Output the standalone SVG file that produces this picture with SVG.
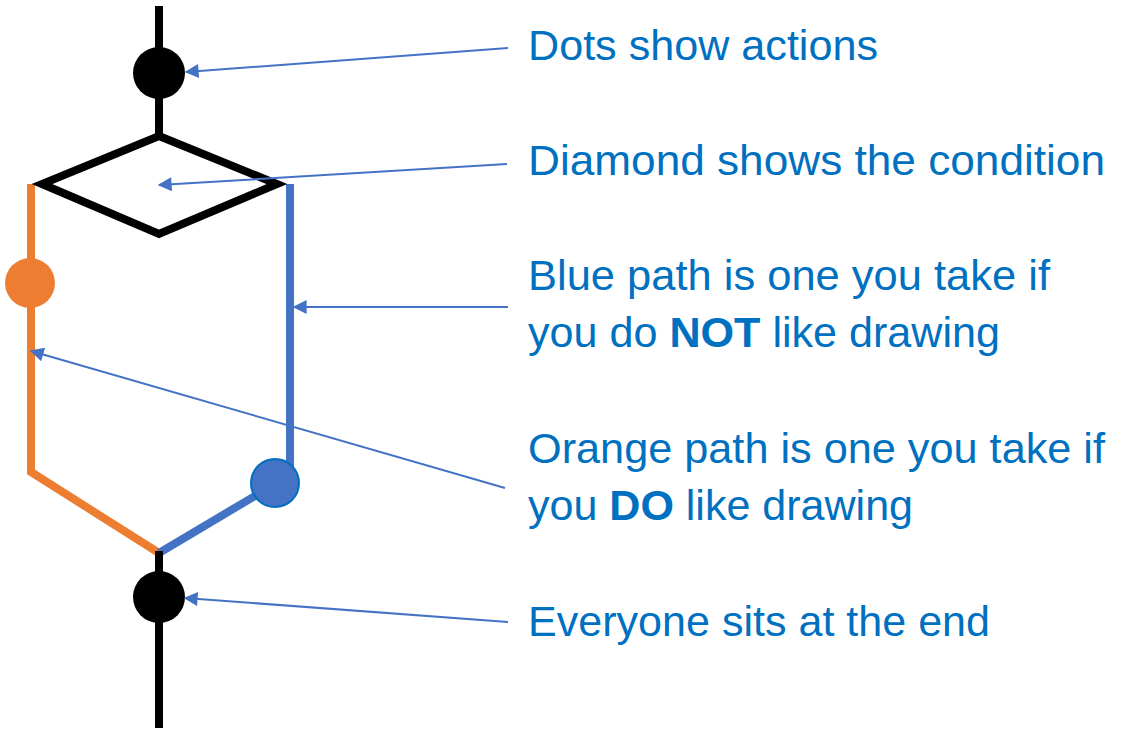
<svg xmlns="http://www.w3.org/2000/svg" width="1124" height="731" viewBox="0 0 1124 731">
  <defs>
    <style>
      .flow { fill: none; stroke-linejoin: miter; stroke-miterlimit: 10; stroke-width: 8; }
      .black { stroke: #000000; }
      .orange { stroke: #ED7D31; }
      .blue { stroke: #4472C4; }
      .pointer { stroke: #4472C4; stroke-width: 2; fill: none; marker-end: url(#tip); }
      .label { font-family: "Liberation Sans", Arial, sans-serif; font-size: 43px; fill: #0070C0; }
      .strong { font-weight: bold; }
    </style>
    <marker id="tip" viewBox="0 0 10 10" refX="9" refY="5" markerWidth="7.5" markerHeight="7" orient="auto" markerUnits="strokeWidth">
      <path d="M0,0 L10,5 L0,10 z" fill="#4472C4"/>
    </marker>
  </defs>

  <rect width="1124" height="731" fill="#ffffff"/>

  <!-- flow lines -->
  <g id="connectors">
    <line class="flow black" x1="159" y1="6" x2="159" y2="136"/>
    <path class="flow orange" d="M31,184 L31,472 L159,553"/>
    <path class="flow blue" d="M290,184 L290,472"/>
    <path class="flow blue" d="M275,484 L159,553"/>
    <line class="flow black" x1="159" y1="551" x2="159" y2="728"/>
  </g>

  <g id="start-action">
    <circle cx="159" cy="73" r="26" fill="#000000"/>
  </g>

  <g id="condition">
    <polygon class="flow black" points="159,136 277,184 159,234 42,184" fill="#ffffff"/>
  </g>

  <g id="orange-action">
    <circle cx="30" cy="283" r="25" fill="#ED7D31"/>
  </g>

  <g id="blue-action">
    <circle cx="275" cy="483" r="24" fill="#4472C4" stroke="#0070C0" stroke-width="2"/>
  </g>

  <g id="end-action">
    <circle cx="159" cy="597" r="26" fill="#000000"/>
  </g>

  <!-- annotation pointers -->
  <g id="pointers">
    <line class="pointer" x1="508" y1="48" x2="186" y2="72"/>
    <line class="pointer" x1="507" y1="164" x2="159" y2="185"/>
    <line class="pointer" x1="508" y1="307" x2="294" y2="307"/>
    <line class="pointer" x1="505" y1="488" x2="31" y2="351"/>
    <line class="pointer" x1="508" y1="622" x2="185" y2="598"/>
  </g>

  <!-- annotation texts -->
  <g id="note-dots">
    <text class="label" x="528" y="60" textLength="350" lengthAdjust="spacingAndGlyphs">Dots show actions</text>
  </g>
  <g id="note-diamond">
    <text class="label" x="528" y="175" textLength="577" lengthAdjust="spacingAndGlyphs">Diamond shows the condition</text>
  </g>
  <g id="note-blue">
    <text class="label" x="528" y="290" textLength="522" lengthAdjust="spacingAndGlyphs">Blue path is one you take if</text>
    <text class="label" x="528" y="347" textLength="472" lengthAdjust="spacingAndGlyphs">you do <tspan class="strong">NOT</tspan> like drawing</text>
  </g>
  <g id="note-orange">
    <text class="label" x="528" y="463" textLength="577" lengthAdjust="spacingAndGlyphs">Orange path is one you take if</text>
    <text class="label" x="528" y="520" textLength="385" lengthAdjust="spacingAndGlyphs">you <tspan class="strong">DO</tspan> like drawing</text>
  </g>
  <g id="note-end">
    <text class="label" x="528" y="636" textLength="462" lengthAdjust="spacingAndGlyphs">Everyone sits at the end</text>
  </g>
</svg>
